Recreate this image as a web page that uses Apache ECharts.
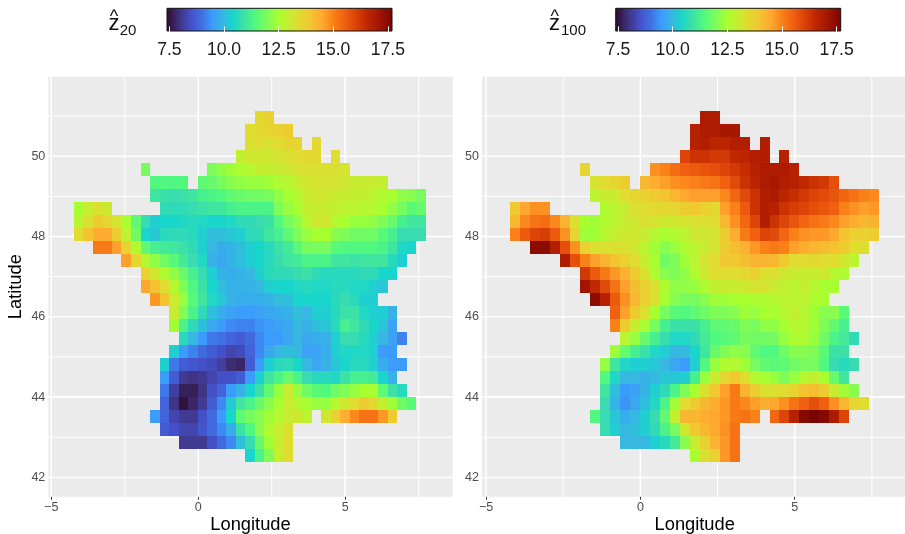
<!DOCTYPE html>
<html>
<head>
<meta charset="utf-8">
<style>html,body{margin:0;padding:0;background:#fff}#c{width:905px;height:534px}</style>
<script src="https://cdn.jsdelivr.net/npm/echarts@6/dist/echarts.min.js"></script>
</head>
<body>
<div id="c"></div>
<script>
// Grid: first cell column / row, cell size in degrees
const lonStart = -4.228, latTop = 51.13, lonStep = 0.3235, latStep = 0.3242;
// First column of each row, north to south
const rowFirstColumn = [19,18,18,17,7,8,8,0,0,0,2,5,7,7,8,10,10,11,10,9,9,9,9,8,9,11,18];
const _ = null;
const z20Rows = [
[13.5,13.7],
[13.4,13.5,13.6,13.7,13.8],
[13.3,13.4,13.3,13.4,13.6,13.6,_,13.5],
[12.9,13.1,13.1,13.1,13.2,13.3,13.4,13.5,13.5,_,13.4],
[11.9,_,_,_,_,_,_,12.0,12.2,12.4,12.6,12.7,12.9,12.9,13.0,13.1,13.2,13.3,13.3,13.3,13.3,13.2],
[11.4,11.4,11.4,11.4,_,11.6,11.7,11.9,12.1,12.2,12.3,12.3,12.4,12.6,12.7,13.0,13.1,13.2,13.2,13.2,13.1,13.0,13.0,13.0,12.9],
[11.0,10.9,10.8,10.9,11.0,11.2,11.3,11.4,11.6,11.7,11.8,11.8,11.9,12.2,12.5,12.7,13.0,13.1,13.1,13.0,13.0,12.9,12.9,12.8,12.6,12.5,12.2,12.1,11.9],
[12.5,13.0,13.3,13.1,_,_,_,_,_,10.7,10.7,10.7,10.8,10.9,11.0,11.0,11.2,11.3,11.3,11.3,11.3,12.0,12.3,12.5,12.9,13.0,13.0,12.9,12.8,12.8,12.7,12.7,12.5,12.2,11.9,11.5,11.7],
[12.8,13.3,13.8,13.6,13.2,12.5,11.6,10.8,10.3,10.4,10.4,10.5,10.6,10.5,10.4,10.4,10.5,10.7,10.7,10.8,10.9,11.4,11.9,12.2,12.7,13.1,13.1,12.7,12.5,12.3,12.3,12.2,12.0,11.7,11.2,11.0,11.0],
[13.4,14.0,14.4,14.4,13.8,12.8,11.8,10.4,10.2,10.6,10.7,10.7,10.6,10.3,10.1,10.1,10.2,10.3,10.7,10.7,11.0,11.2,11.6,12.0,12.3,12.5,12.5,12.1,12.0,11.8,11.8,11.8,11.5,11.2,10.8,10.8,10.8],
[15.1,15.1,14.6,13.6,12.6,11.6,11.2,11.1,11.0,10.9,10.7,10.3,10.0,9.8,9.9,10.1,10.3,10.4,10.6,10.9,11.1,11.5,11.9,11.9,11.9,11.5,11.4,11.4,11.4,11.4,11.3,11.0,10.5,10.4],
[14.6,13.5,12.7,12.2,11.8,11.5,11.1,10.8,10.5,9.9,9.7,9.9,10.1,10.3,10.4,10.6,10.8,11.0,11.1,11.3,11.3,11.3,11.0,11.0,10.9,11.0,11.0,11.0,10.6,10.3],
[13.7,13.1,12.6,12.2,11.7,11.2,10.8,10.3,9.9,9.8,9.9,10.0,10.3,10.6,10.7,10.7,10.8,10.9,10.7,10.6,10.6,10.6,10.6,10.7,10.7,10.4,10.4],
[14.5,14.0,13.4,12.7,12.0,11.4,10.9,10.4,10.1,9.9,9.9,9.9,10.0,10.3,10.4,10.4,10.5,10.6,10.5,10.5,10.6,10.6,10.5,10.5,10.3,10.2],
[14.7,14.0,13.0,12.3,11.5,11.0,10.5,10.2,9.9,9.8,9.8,9.8,9.9,10.1,10.1,10.4,10.4,10.4,10.4,10.6,10.8,10.6,10.3,10.3],
[13.0,12.0,11.3,10.7,10.1,9.8,9.6,9.5,9.5,9.6,9.7,9.8,9.9,10.1,10.0,10.3,10.3,10.6,10.9,10.9,10.5,10.3,10.3,9.9],
[12.4,11.3,10.7,10.1,9.7,9.5,9.3,9.2,9.2,9.4,9.5,9.6,9.7,10.0,9.9,10.1,10.2,10.6,11.2,11.0,10.7,10.4,10.2,9.6],
[10.6,10.0,9.5,9.1,9.0,8.8,8.7,8.9,9.3,9.5,9.5,9.7,10.0,9.7,9.8,9.9,10.3,10.8,10.8,10.6,10.3,10.0,9.6,9.2],
[10.3,9.5,9.2,8.9,8.7,8.5,8.3,8.4,8.8,9.3,9.7,10.0,10.1,10.0,9.6,9.6,9.8,10.3,10.5,10.5,10.5,10.3,9.5,9.5],
[10.3,9.1,8.7,8.6,8.5,8.4,8.2,7.9,7.8,8.7,9.5,10.3,10.6,10.7,10.4,10.0,9.7,9.9,10.2,10.4,10.6,10.6,10.3,9.8,9.5,9.5],
[9.5,8.7,8.1,8.0,8.1,8.3,8.5,8.5,8.7,9.5,10.3,11.0,11.3,11.7,11.3,10.8,10.6,10.6,10.5,10.9,11.2,11.2,11.1,10.4,9.9],
[9.1,8.2,7.7,7.7,8.0,8.5,8.8,9.5,9.9,10.4,10.9,11.6,12.3,13.0,12.3,11.8,11.5,11.4,11.8,12.0,12.3,12.5,12.5,11.6,10.9,10.6],
[8.8,8.0,7.5,7.8,8.1,8.7,9.3,10.2,11.0,11.3,11.7,12.1,12.5,13.0,12.7,12.5,12.3,12.3,12.7,13.1,13.4,13.8,13.5,12.9,12.4,11.8,11.5],
[9.5,8.8,8.3,8.1,8.1,8.5,8.9,9.5,10.4,11.6,11.9,12.1,12.4,12.7,13.0,13.1,12.8,_,13.1,13.7,14.4,14.9,15.2,15.2,14.7,13.8],
[8.7,8.5,8.3,8.3,8.6,8.9,9.3,9.8,10.9,11.4,12.1,12.6,13.0,13.3],
[8.1,8.1,8.1,8.5,8.9,9.3,10.1,10.8,11.7,12.4,13.0,13.4],
[10.4,11.3,12.0,12.9,13.4]
];
const z100Rows = [
[16.9,16.9],
[16.7,16.9,16.9,17.0,17.0],
[16.7,16.8,16.6,16.6,16.8,16.8,_,16.8],
[16.0,16.3,16.3,16.2,16.2,16.5,16.6,16.8,16.8,_,16.7],
[13.6,_,_,_,_,_,_,14.8,15.0,15.3,15.5,15.6,15.7,15.8,16.0,16.2,16.4,16.7,16.9,16.9,16.9,16.7],
[13.2,13.4,13.6,13.8,_,14.2,14.4,14.6,14.8,14.9,15.0,15.1,15.2,15.5,15.9,16.3,16.6,16.9,17.0,16.8,16.7,16.5,16.3,16.2,15.8],
[12.8,13.0,13.0,13.4,13.6,13.7,13.8,14.0,14.2,14.5,14.6,14.6,14.6,14.9,15.4,15.9,16.3,16.8,16.9,16.6,16.4,16.2,16.0,15.9,15.7,15.4,15.2,15.0,14.9],
[13.9,14.5,14.8,14.8,_,_,_,_,_,12.6,12.8,13.0,13.3,13.4,13.5,13.5,13.6,13.8,13.9,13.7,13.5,14.6,15.0,15.6,16.3,16.8,16.7,16.3,16.1,16.0,15.8,15.7,15.5,15.0,14.8,14.6,14.7],
[14.2,14.9,15.2,15.3,14.9,14.3,13.3,12.5,12.4,12.6,12.8,13.0,13.1,13.3,13.2,13.1,13.1,13.2,13.3,13.3,13.4,14.2,14.8,15.4,16.0,16.8,16.3,16.0,15.7,15.4,15.2,15.1,14.9,14.6,14.4,14.2,14.3],
[15.0,15.6,16.0,16.1,15.6,14.8,13.6,12.4,12.4,12.7,12.9,13.1,13.1,13.0,12.7,12.5,12.6,12.8,13.1,13.1,13.2,13.8,14.4,15.1,15.5,16.0,15.9,15.4,15.0,14.8,14.7,14.7,14.5,14.0,13.7,13.7,13.8],
[17.4,17.4,16.8,15.8,14.8,13.7,13.3,13.3,13.3,13.3,13.1,12.8,12.4,12.1,12.3,12.6,12.8,13.0,13.2,13.8,14.1,14.3,14.7,15.0,15.1,15.0,14.6,14.4,14.2,14.1,14.0,13.8,13.4,13.3],
[16.9,15.8,15.0,14.6,14.3,14.0,13.7,13.4,13.0,12.5,11.8,12.0,12.4,12.8,13.2,13.4,13.9,13.9,14.1,14.3,14.3,14.2,13.8,13.4,13.4,13.5,13.4,13.4,13.1,12.8],
[16.2,15.6,15.1,14.7,14.3,13.8,13.3,12.6,12.1,12.0,12.2,12.6,13.1,13.4,13.4,13.4,13.5,13.7,13.3,13.3,13.1,13.0,13.0,13.0,13.1,12.7,12.6],
[17.1,16.5,15.9,15.2,14.6,14.1,13.7,13.3,12.6,12.2,12.2,12.3,12.6,12.9,13.0,13.0,13.1,13.2,13.2,13.0,12.9,12.8,12.9,12.7,12.5,12.5],
[17.4,16.7,15.6,14.8,14.2,13.7,13.3,12.5,12.1,11.9,11.9,12.1,12.4,12.4,12.5,12.5,12.6,12.6,12.7,12.8,12.8,12.8,12.6,12.5],
[15.5,14.6,13.8,13.3,12.5,11.9,11.5,11.4,11.6,11.8,12.0,12.0,12.1,12.4,12.3,12.5,12.5,12.7,12.9,12.7,12.4,12.1,12.1,11.5],
[15.0,13.8,13.0,12.5,11.9,11.2,10.9,10.9,10.9,11.2,11.6,11.6,11.7,12.0,11.9,12.2,12.2,12.5,12.7,12.7,12.4,12.0,11.6,11.2],
[12.8,12.3,11.7,11.2,10.8,10.5,10.5,10.7,11.1,11.4,11.5,11.6,11.9,11.8,11.8,11.9,12.3,12.6,12.6,12.3,11.8,11.3,11.1,10.7],
[12.4,11.7,11.2,10.9,10.5,10.3,10.0,10.0,10.4,11.0,11.7,12.0,12.2,12.1,11.6,11.4,11.4,11.8,12.1,12.1,12.0,11.5,10.9,10.9],
[12.3,11.0,10.5,10.3,10.3,10.2,10.0,9.7,9.5,10.3,11.4,12.3,12.6,12.7,12.4,11.9,11.6,11.5,11.6,11.8,11.9,11.9,11.4,10.8,10.6,10.8],
[11.4,10.5,10.0,10.0,9.9,10.0,10.2,10.2,10.3,11.2,12.3,13.0,13.5,13.9,13.4,12.7,12.5,12.3,12.0,12.3,12.7,12.9,12.5,11.7,11.0],
[11.0,10.1,9.5,9.6,9.9,10.3,10.7,11.3,12.0,12.5,13.3,13.9,14.6,15.1,14.3,13.8,13.3,13.3,13.4,13.6,14.0,14.1,13.8,13.0,12.4,12.1],
[10.8,9.9,9.4,9.7,10.1,10.5,11.3,12.4,13.4,13.8,14.2,14.4,14.7,15.1,14.9,14.6,14.4,14.5,14.8,15.2,15.5,15.8,15.5,14.8,14.2,13.6,13.4],
[11.4,10.8,10.2,9.8,10.0,10.3,10.8,11.6,12.9,14.2,14.2,14.4,14.5,14.7,15.1,15.2,15.0,_,15.4,16.0,16.7,17.5,17.7,17.5,16.9,16.0],
[10.8,10.3,10.0,10.1,10.3,10.7,11.3,11.9,13.1,13.9,14.2,14.5,14.8,15.2],
[10.0,10.0,10.0,10.3,10.6,11.1,12.1,13.0,13.7,14.3,14.7,15.2],
[12.5,13.3,13.7,14.7,15.2]
];
// Colour scale
const scaleValues = [7.39,7.5,8.0,8.5,9.0,9.5,10.0,10.4,10.8,11.4,12.0,12.5,13.0,13.4,13.9,14.5,15.0,15.5,16.0,16.5,17.0,17.69];
const scaleColors = ['#2b0f38','#30123b','#403484','#4450c8','#4070e4','#3c9cfc','#36b8e0','#18d6cc','#38dcb0','#50f880','#80fc58','#a8ff30','#c8ec30','#e0dc30','#f0c830','#ffa830','#fa8018','#f06010','#dc4408','#c02800','#a81800','#7a0403'];
const barMin = 7.39, barMax = 17.69;
const barTicks = [7.5,10,12.5,15,17.5];
// Axes
const lonMajor = [-5,0,5], lonMinor = [-2.5,2.5,7.5];
const latMajor = [42,44,46,48,50], latMinor = [43,45,47,49,51];
const lonName = 'Longitude', latName = 'Latitude';

function colorOf(v){
  for(let i=1;i<scaleValues.length;i++){
    if(v<=scaleValues[i]){
      const t=(v-scaleValues[i-1])/(scaleValues[i]-scaleValues[i-1]);
      return echarts.color.lerp(Math.max(0,t),[scaleColors[i-1],scaleColors[i]]);
    }
  }
  return scaleColors[scaleColors.length-1];
}
function cells(rows){
  const out=[];
  rows.forEach((row,r)=>row.forEach((v,k)=>{
    if(v===null) return;
    const c=rowFirstColumn[r]+k;
    out.push([lonStart+lonStep*(c+0.5), latTop-latStep*(r+0.5), v]);
  }));
  return out;
}
function renderCell(params,api){
  const lon=api.value(0), lat=api.value(1);
  const a=api.coord([lon-lonStep/2,lat+latStep/2]);
  const b=api.coord([lon+lonStep/2,lat-latStep/2]);
  const x0=Math.round(a[0]),y0=Math.round(a[1]),x1=Math.round(b[0]),y1=Math.round(b[1]);
  return {type:'rect',shape:{x:x0,y:y0,width:x1-x0,height:y1-y0},style:{fill:colorOf(api.value(2))}};
}
function gridLineSeries(idx,xr,yr){
  const data=[];
  lonMinor.forEach(v=>data.push([v,0,1]));
  latMinor.forEach(v=>data.push([v,1,1]));
  lonMajor.forEach(v=>data.push([v,0,1.6]));
  latMajor.forEach(v=>data.push([v,1,1.6]));
  return {type:'custom',xAxisIndex:idx,yAxisIndex:idx,silent:true,z:1,clip:true,animation:false,
    encode:{x:[],y:[]},data,
    renderItem(p,api){
      const v=api.value(0),h=api.value(1);
      const a=h?api.coord([xr[0],v]):api.coord([v,yr[0]]);
      const b=h?api.coord([xr[1],v]):api.coord([v,yr[1]]);
      return {type:'line',shape:{x1:a[0],y1:a[1],x2:b[0],y2:b[1]},style:{stroke:'#fff',lineWidth:api.value(2)}};
    }};
}
const xR=[[-5.10,8.656],[-5.13,8.65]], yR=[41.52,51.98];
const axisLbl={color:'#4d4d4d',fontSize:12.5,fontFamily:'Liberation Sans'};
const nameTxt={color:'#000',fontSize:18.3,fontFamily:'Liberation Sans'};
function mapX(i){return {type:'value',gridIndex:i,min:xR[i][0],max:xR[i][1],
  name:lonName,nameLocation:'middle',nameGap:19,nameTextStyle:nameTxt,nameMoveOverlap:false,
  axisLine:{show:false},splitLine:{show:false},
  axisTick:{show:true,length:3,lineStyle:{color:'#333',width:1},customValues:lonMajor},
  axisLabel:Object.assign({show:true,margin:4,customValues:lonMajor,showMinLabel:true,showMaxLabel:true,hideOverlap:false,
    formatter:v=>String(v).replace('-','\u2212')},axisLbl)};}
function mapY(i){return {type:'value',gridIndex:i,min:yR[0],max:yR[1],
  name:i===0?latName:'',nameLocation:'middle',nameGap:23,nameTextStyle:nameTxt,nameMoveOverlap:false,
  axisLine:{show:false},splitLine:{show:false},
  axisTick:{show:true,length:3,lineStyle:{color:'#333',width:1},customValues:latMajor},
  axisLabel:Object.assign({show:true,margin:3,customValues:latMajor,hideOverlap:false},axisLbl)};}
function barX(i,grid,pos,labels){return {type:'value',gridIndex:grid,position:pos,min:barMin,max:barMax,z:6,
  axisLine:{show:false},splitLine:{show:false},
  axisTick:{show:true,inside:true,length:4.6,lineStyle:{color:'#fff',width:1},customValues:barTicks},
  axisLabel:{show:labels,margin:10,color:'#1a1a1a',fontSize:17.6,fontFamily:'Liberation Sans',customValues:barTicks,hideOverlap:false,
    formatter:v=>v.toFixed(1)}};}
function barY(grid){return {type:'value',gridIndex:grid,min:0,max:1,show:false};}
function barSeries(axisIdx){
  return {type:'custom',xAxisIndex:axisIdx,yAxisIndex:axisIdx,z:2,animation:false,silent:true,clip:false,
    encode:{x:[0,1],y:[]},data:[[barMin,barMax]],
    renderItem(p,api){
      const a=api.coord([api.value(0),1]),b=api.coord([api.value(1),0]);
      const stops=scaleValues.map((v,i)=>({offset:(v-barMin)/(barMax-barMin),color:scaleColors[i]}));
      return {type:'rect',shape:{x:a[0],y:a[1],width:b[0]-a[0],height:b[1]-a[1]},
        style:{fill:new echarts.graphic.LinearGradient(0,0,1,0,stops),stroke:'#111',lineWidth:1}};
    }};
}
function txt(x,y,text,size,align){
  return {type:'text',x,y,silent:true,z:10,style:{text,fontSize:size,fontFamily:'Liberation Sans',fill:'#111',align:align||'left',verticalAlign:'middle'}};
}
const chart=echarts.init(document.getElementById('c'),null,{renderer:'canvas'});
const gridBase={outerBoundsMode:'none'};
chart.setOption({
  animation:false,backgroundColor:'#fff',
  grid:[
    Object.assign({left:48.3,top:76.7,width:404.4,height:420,show:true,backgroundColor:'#ebebeb',borderWidth:0},gridBase),
    Object.assign({left:482,top:76.7,width:425.4,height:420,show:true,backgroundColor:'#ebebeb',borderWidth:0},gridBase),
    Object.assign({left:167,top:8.3,width:225,height:22.7},gridBase),
    Object.assign({left:615.7,top:8.3,width:225,height:22.7},gridBase)
  ],
  xAxis:[mapX(0),mapX(1),barX(0,2,'bottom',true),barX(1,3,'bottom',true),barX(0,2,'top',false),barX(1,3,'top',false)],
  yAxis:[mapY(0),mapY(1),barY(2),barY(3),barY(2),barY(3)],
  series:[
    gridLineSeries(0,xR[0],yR),
    gridLineSeries(1,xR[1],yR),
    {type:'custom',xAxisIndex:0,yAxisIndex:0,z:2,animation:false,clip:true,encode:{x:0,y:1},data:cells(z20Rows),renderItem:renderCell},
    {type:'custom',xAxisIndex:1,yAxisIndex:1,z:2,animation:false,clip:true,encode:{x:0,y:1},data:cells(z100Rows),renderItem:renderCell},
    barSeries(2),
    barSeries(3)
  ],
  graphic:[
    txt(114,17,'^',18,'center'),txt(108.5,24.4,'z',22),txt(119.7,30.5,'20',15),
    txt(554.7,17,'^',18,'center'),txt(549,24.4,'z',22),txt(561,30.5,'100',15)
  ]
});
</script>
</body>
</html>
